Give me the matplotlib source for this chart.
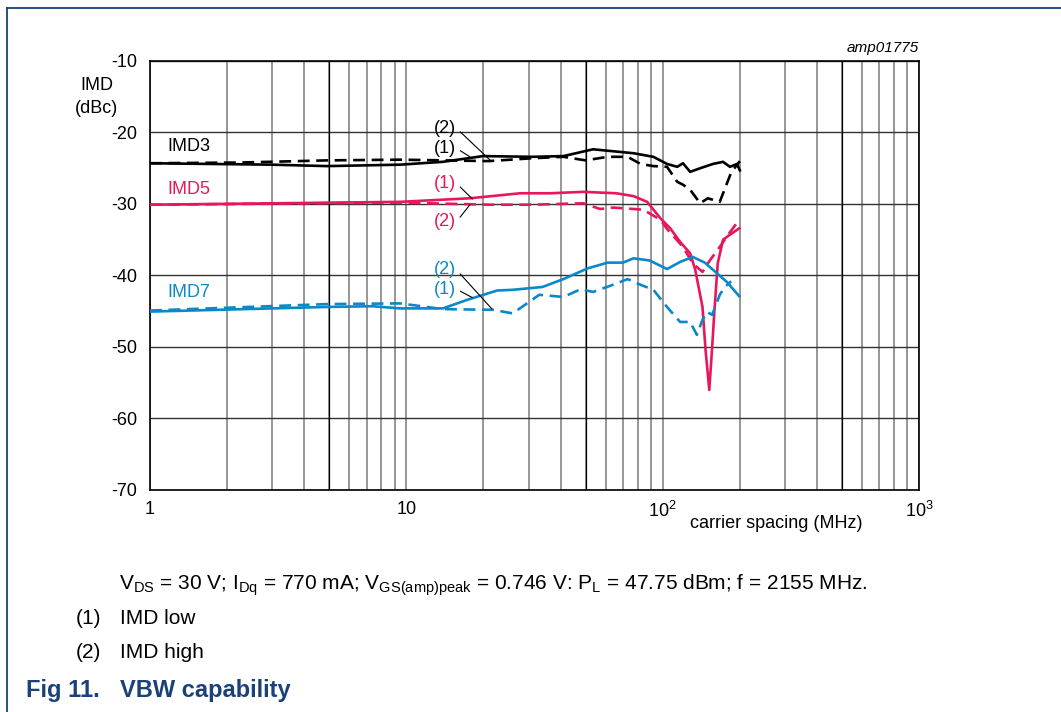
import matplotlib.pyplot as plt
from matplotlib.lines import Line2D
from matplotlib.ticker import LogLocator, NullFormatter, FixedLocator

plt.rcParams['font.family'] = ['Liberation Sans', 'DejaVu Sans']
plt.rcParams['mathtext.default'] = 'regular'

# carrier spacing (MHz) / IMD (dBc), (1) = IMD low (solid), (2) = IMD high (dashed)
imd3_low_f = [1, 3, 4.9, 9.45, 13.9, 19.9, 31, 41, 53.5, 77, 92, 104, 114, 120, 128, 140, 157, 172, 183, 195, 200]
imd3_low = [-24.3, -24.5, -24.7, -24.5, -24.1, -23.3, -23.4, -23.3, -22.35, -22.9, -23.4, -24.4, -24.8, -24.3,
            -25.5, -25.0, -24.4, -24.1, -24.8, -24.4, -25.3]
imd3_high_f = [1, 2.25, 4.9, 9.45, 21, 31, 41, 50, 61, 73, 82, 92, 104, 114, 120, 128, 140, 150, 167, 185, 200]
imd3_high = [-24.3, -24.2, -23.9, -23.8, -24.0, -23.6, -23.4, -23.9, -23.4, -23.4, -24.4, -24.7, -24.8, -26.9,
             -27.3, -28.0, -29.9, -29.2, -29.7, -25.6, -24.0]

imd5_low_f = [1, 9.45, 17.7, 27.8, 36.4, 49, 66, 77, 87, 98, 107, 117, 128, 134, 143, 147, 152, 156, 159, 164,
              172, 183, 199]
imd5_low = [-30.1, -29.7, -29.2, -28.5, -28.5, -28.3, -28.5, -28.9, -29.7, -32.0, -33.4, -35.3, -36.9, -39.2,
            -44.4, -50.4, -56.0, -50.0, -45.2, -38.3, -35.0, -34.3, -33.4]
imd5_high_f = [1, 9.45, 21, 31, 49, 57, 64, 77, 84, 98, 104, 120, 131, 143, 150, 167, 180, 199]
imd5_high = [-30.1, -29.8, -30.1, -30.1, -29.9, -30.7, -30.5, -30.7, -30.8, -32.2, -33.5, -36.0, -38.3, -39.5,
             -38.3, -36.0, -34.3, -32.2]

imd7_low_f = [1, 4.9, 7.4, 9.45, 13.9, 17.3, 22.6, 26, 34, 41, 51, 61, 70, 77, 89, 104, 117, 131, 146, 163,
              178, 199]
imd7_low = [-45.05, -44.4, -44.3, -44.6, -44.6, -43.4, -42.1, -42.0, -41.6, -40.5, -39.0, -38.2, -38.2, -37.6,
            -37.9, -39.1, -38.1, -37.4, -38.2, -39.7, -40.9, -42.9]
imd7_high_f = [1, 4.9, 9.45, 13.9, 21.8, 26, 33, 41, 48, 53.5, 64, 73, 82, 92, 104, 117, 128, 136, 143, 149,
               156, 167, 175, 185]
imd7_high = [-44.9, -44.0, -43.9, -44.7, -44.8, -45.3, -42.7, -43.0, -41.9, -42.3, -41.3, -40.5, -41.3, -42.0,
             -44.4, -46.5, -46.5, -48.3, -46.2, -45.1, -45.5, -42.7, -41.6, -40.8]

BLACK = '#000000'
PINK = '#e8175d'
BLUE = '#0a88c8'
NAVY = '#1a4178'

fig = plt.figure(figsize=(10.61, 7.12), dpi=100)
ax = fig.add_axes([150 / 1061, 1 - 490 / 712, 769 / 1061, 429 / 712])

ax.set_xscale('log')
ax.set_xlim(1, 1000)
ax.set_ylim(-70, -10)

# grid: grey lines on every minor decade step, black ones at 5, 50, 500
ax.xaxis.set_minor_locator(LogLocator(base=10, subs=range(2, 10)))
ax.xaxis.set_minor_formatter(NullFormatter())
ax.grid(which='both', axis='x', color='#7a7a7a', lw=1.1)
ax.yaxis.set_major_locator(FixedLocator(range(-70, -9, 10)))
ax.grid(which='major', axis='y', color='#333333', lw=1.0)
for xv in [5, 50, 500]:
    ax.axvline(xv, color='black', lw=0.9, zorder=1)
ax.tick_params(which='both', length=0)
ax.set_axisbelow(True)
for sp in ax.spines.values():
    sp.set_color('black')
    sp.set_linewidth(1.2)

ax.set_xticks([1, 10, 100, 1000])
ax.set_xticklabels(['1', '10', r'$10^2$', r'$10^3$'], fontsize=13)
ax.set_yticks(range(-70, -9, 10))
ax.set_yticklabels([str(v) for v in range(-70, -9, 10)], fontsize=13)
ax.tick_params(axis='x', pad=8)
ax.tick_params(axis='y', pad=9)

dash = (0, (4.5, 2.5))
lw = 1.9
ax.plot(imd3_low_f, imd3_low, color=BLACK, lw=lw, zorder=3)
ax.plot(imd3_high_f, imd3_high, color=BLACK, lw=lw, ls=dash, zorder=3)
ax.plot(imd5_low_f, imd5_low, color=PINK, lw=lw, zorder=3)
ax.plot(imd5_high_f, imd5_high, color=PINK, lw=lw, ls=dash, zorder=3)
ax.plot(imd7_low_f, imd7_low, color=BLUE, lw=lw, zorder=3)
ax.plot(imd7_high_f, imd7_high, color=BLUE, lw=lw, ls=dash, zorder=3)

ax.text(1.17, -22.0, 'IMD3', color=BLACK, fontsize=13, ha='left', va='center')
ax.text(1.17, -28.0, 'IMD5', color=PINK, fontsize=13, ha='left', va='center')
ax.text(1.17, -42.4, 'IMD7', color=BLUE, fontsize=13, ha='left', va='center')

# (1)/(2) leaders
leaders = [
    ('(2)', BLACK, (14.2, -19.4), (21.2, -23.85)),
    ('(1)', BLACK, (14.2, -22.2), (17.7, -23.4)),
    ('(1)', PINK, (14.2, -27.1), (18.1, -29.3)),
    ('(2)', PINK, (14.2, -32.5), (17.7, -30.1)),
    ('(2)', BLUE, (14.2, -39.2), (21.6, -44.7)),
    ('(1)', BLUE, (14.2, -41.9), (18.1, -43.1)),
]
for lab, col, txy, pxy in leaders:
    ax.annotate(lab, xy=pxy, xytext=txy, color=col, fontsize=13, ha='center', va='center',
                arrowprops=dict(arrowstyle='-', color='black', lw=0.8, shrinkA=1, shrinkB=0,
                                relpos=(1, 0.5)), zorder=4)

fig.text(919 / 1061, 1 - 48 / 712, 'amp01775', fontsize=11, style='italic', ha='right', va='center')
fig.text(97 / 1061, 1 - 97 / 712, 'IMD\n(dBc)', fontsize=13, ha='center', va='center', linespacing=1.4)
fig.text(776 / 1061, 1 - 524 / 712, 'carrier spacing (MHz)', fontsize=13, ha='center', va='center')

fig.text(119 / 1061, 1 - 585 / 712,
         r'$V_{DS}$ = 30 V; $I_{Dq}$ = 770 mA; $V_{GS(amp)peak}$ = 0.746 V: $P_L$ = 47.75 dBm; f = 2155 MHz.',
         fontsize=15, ha='left', va='center')
fig.text(76 / 1061, 1 - 619 / 712, '(1)', fontsize=15, ha='left', va='center')
fig.text(120 / 1061, 1 - 619 / 712, 'IMD low', fontsize=15, ha='left', va='center')
fig.text(76 / 1061, 1 - 653 / 712, '(2)', fontsize=15, ha='left', va='center')
fig.text(120 / 1061, 1 - 653 / 712, 'IMD high', fontsize=15, ha='left', va='center')
fig.text(26 / 1061, 1 - 691 / 712, 'Fig 11.', fontsize=17, weight='bold', color=NAVY, ha='left', va='center')
fig.text(120 / 1061, 1 - 691 / 712, 'VBW capability', fontsize=17, weight='bold', color=NAVY,
         ha='left', va='center')

# open frame: top and left edges
fig.add_artist(Line2D([7 / 1061, 1], [1 - 8 / 712, 1 - 8 / 712], color=NAVY, lw=1.3, transform=fig.transFigure))
fig.add_artist(Line2D([7 / 1061, 7 / 1061], [0, 1 - 8 / 712], color=NAVY, lw=1.3, transform=fig.transFigure))

fig.savefig('out.png', dpi=100)
